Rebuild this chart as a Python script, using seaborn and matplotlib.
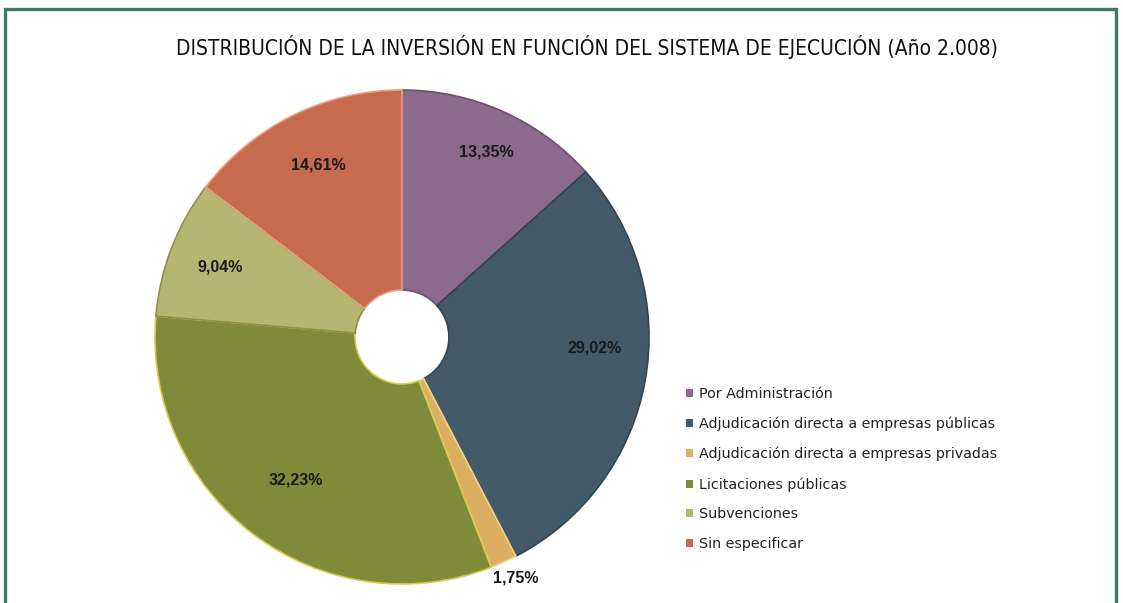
import matplotlib
matplotlib.use("Agg")
import matplotlib.pyplot as plt
import matplotlib.patches as mpatches
import seaborn as sns

sns.set_theme(style="white")
plt.rcParams['font.family'] = ['DejaVu Sans']

# data (share of investment, %)
categories = [
    "Por Administración",
    "Adjudicación directa a empresas públicas",
    "Adjudicación directa a empresas privadas",
    "Licitaciones públicas",
    "Subvenciones",
    "Sin especificar",
]
shares = [13.35, 29.02, 1.75, 32.23, 9.04, 14.61]
colors = ["#8b6a8d", "#445a69", "#dcae62", "#7f8b38", "#b4b672", "#c66b4d"]
edges = ["#6e4f70", "#334450", "#f0d890", "#d8cc50", "#8e8f4a", "#e8a080"]

title = "DISTRIBUCIÓN DE LA INVERSIÓN EN FUNCIÓN DEL SISTEMA DE EJECUCIÓN (Año 2.008)"

fig = plt.figure(figsize=(11.23, 6.03), dpi=100)

# green frame round the chart (open at the bottom edge)
fig.patches.append(mpatches.Rectangle((5 / 1123, -0.05), 1111 / 1123, 1.05 - 9.5 / 603,
                                      transform=fig.transFigure, fill=False,
                                      edgecolor="#3d7a62", linewidth=2.4))

fig.text(0.523, 1 - 47 / 603, title, ha="center", va="center", fontsize=15,
         family=["DejaVu Sans"], fontstretch="condensed", color="#111111")

# pie axes: centre ~ (402, 337) px, radius ~ 247 px
r = 247
ax = fig.add_axes([(402 - r) / 1123, (603 - 337 - r) / 603, 2 * r / 1123, 2 * r / 603])

def fmt(p):
    return f"{p:.2f}".replace(".", ",") + "%"

wedges, texts, autotexts = ax.pie(
    shares, colors=colors, startangle=90, counterclock=False,
    autopct=fmt, pctdistance=0.79,
    wedgeprops=dict(width=0.81, linewidth=1.2),
    textprops=dict(fontsize=11.5, fontweight="bold", color="#1a1a1a",
                   family=["Liberation Sans", "DejaVu Sans"]),
)
for w, ec in zip(wedges, edges):
    w.set_edgecolor(ec)

# the tiny slice has its label outside the pie
autotexts[0].set_position((0.34, 0.75))
autotexts[2].set_position((0.46, -0.975))
autotexts[2].set_va("center")
autotexts[1].set_position((0.78, -0.045))
autotexts[3].set_position((-0.43, -0.58))
autotexts[5].set_position((-0.34, 0.695))

ax.set_xlim(-1, 1)
ax.set_ylim(-1, 1)
ax.set_aspect("equal")
ax.axis("off")

handles = [mpatches.Rectangle((0, 0), 1, 1, facecolor=c, edgecolor="none") for c in colors]
leg = fig.legend(handles, categories, loc="upper left",
                 bbox_to_anchor=(686 / 1123, 1 - 387 / 603),
                 frameon=False, fontsize=10.3, handlelength=0.5, handleheight=0.5,
                 handletextpad=0.4, labelspacing=1.1, borderaxespad=0, borderpad=0)
for t in leg.get_texts():
    t.set_color("#222222")

fig.savefig("out.png", dpi=100, facecolor="white")
